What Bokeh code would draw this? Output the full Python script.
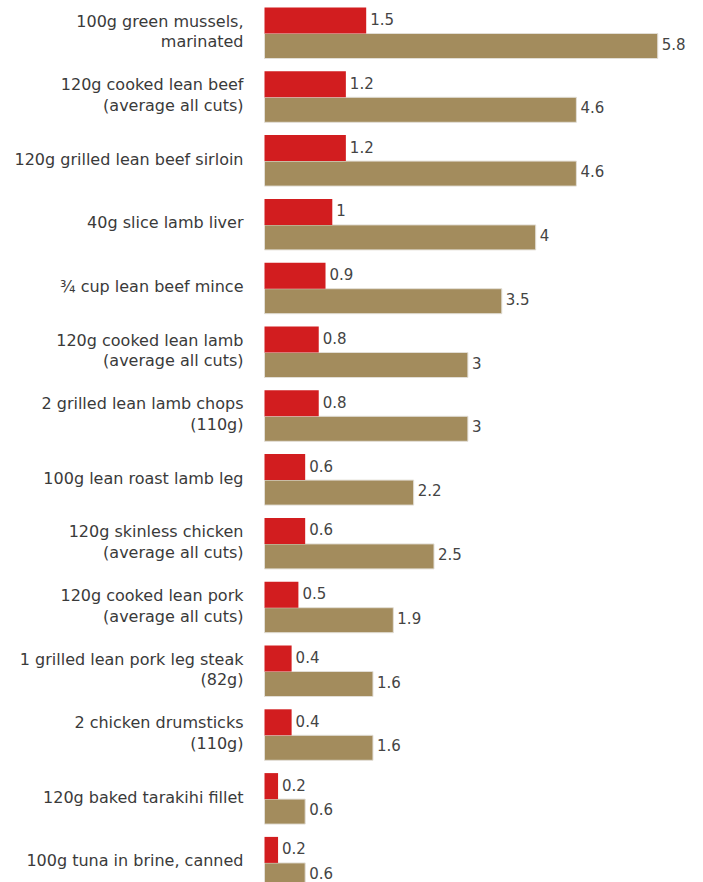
from bokeh.plotting import figure
from bokeh.models import Range1d, ColumnDataSource
from bokeh.core.properties import value
from bokeh.embed import file_html
from bokeh.resources import INLINE

categories = [
    "100g green mussels,\nmarinated",
    "120g cooked lean beef\n(average all cuts)",
    "120g grilled lean beef sirloin",
    "40g slice lamb liver",
    "\u00be cup lean beef mince",
    "120g cooked lean lamb\n(average all cuts)",
    "2 grilled lean lamb chops\n(110g)",
    "100g lean roast lamb leg",
    "120g skinless chicken\n(average all cuts)",
    "120g cooked lean pork\n(average all cuts)",
    "1 grilled lean pork leg steak\n(82g)",
    "2 chicken drumsticks\n(110g)",
    "120g baked tarakihi fillet",
    "100g tuna in brine, canned",
]
red_values = [1.5, 1.2, 1.2, 1, 0.9, 0.8, 0.8, 0.6, 0.6, 0.5, 0.4, 0.4, 0.2, 0.2]
tan_values = [5.8, 4.6, 4.6, 4, 3.5, 3, 3, 2.2, 2.5, 1.9, 1.6, 1.6, 0.6, 0.6]
red_labels = ["1.5", "1.2", "1.2", "1", "0.9", "0.8", "0.8", "0.6", "0.6", "0.5", "0.4", "0.4", "0.2", "0.2"]
tan_labels = ["5.8", "4.6", "4.6", "4", "3.5", "3", "3", "2.2", "2.5", "1.9", "1.6", "1.6", "0.6", "0.6"]

W, H = 703, 882
X0 = 264          # px where value 0 sits
PX_PER_UNIT = 67.8
ROW = 63.8        # px per category row
TOP = 33          # px of first row boundary
RED_H = 26 / ROW
TAN_H = 25 / ROW

n = len(categories)
rows = list(range(n))

x_start = -X0 / PX_PER_UNIT
x_end = (W - X0) / PX_PER_UNIT
y_top = -TOP / ROW
y_bottom = (n - 1) + (H - (TOP + (n - 1) * ROW)) / ROW

p = figure(width=W, height=H, output_backend="svg", toolbar_location=None,
           x_range=Range1d(x_start, x_end), y_range=Range1d(y_bottom, y_top),
           min_border=0, x_axis_location=None, y_axis_location=None,
           outline_line_color=None, background_fill_color="white",
           border_fill_color="white")
p.grid.visible = False

red_src = ColumnDataSource(dict(
    y=[r - RED_H / 2 for r in rows], right=red_values, lab=red_labels,
    ly=[r - RED_H / 2 - 1.5 / ROW for r in rows],
    lx=[v + 4 / PX_PER_UNIT for v in red_values]))
tan_src = ColumnDataSource(dict(
    y=[r + TAN_H / 2 for r in rows], right=tan_values, lab=tan_labels,
    ly=[r + TAN_H / 2 - 2.5 / ROW for r in rows],
    lx=[v + 4 / PX_PER_UNIT for v in tan_values]))

p.hbar(y="y", left=0, right="right", height=TAN_H, source=tan_src,
       fill_color="#a38c5d", line_color="#e2ded6", line_width=1)
p.hbar(y="y", left=0, right="right", height=RED_H, source=red_src,
       fill_color="#d21d1f", line_color=None)

for src in (red_src, tan_src):
    p.text(x="lx", y="ly", text="lab", source=src, text_font=value("DejaVu Sans"),
           text_font_size="15px", text_color="#444444", text_baseline="middle",
           text_align="left")

cat_src = ColumnDataSource(dict(
    x=[-21 / PX_PER_UNIT] * n, y=[r - 2 / ROW for r in rows], t=categories))
p.text(x="x", y="y", text="t", source=cat_src, text_font=value("DejaVu Sans"),
       text_font_size="16px", text_color="#3a3a3a", text_baseline="middle",
       text_align="right", text_line_height=1.1)

open("out.html", "w").write(file_html(p, INLINE))
